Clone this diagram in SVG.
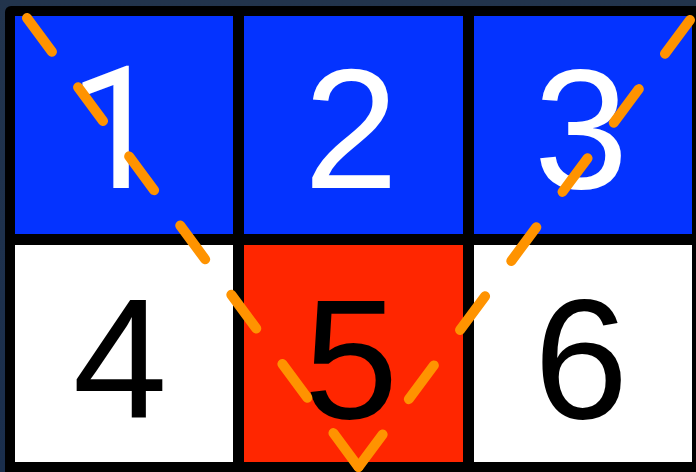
<svg xmlns="http://www.w3.org/2000/svg" width="696" height="472" viewBox="0 0 696 472">
  <style>
    .num { font-family: "Liberation Sans", Arial, sans-serif; font-size: 170px; text-anchor: middle; }
    .one { font-family: Roboto, "Liberation Sans", sans-serif; }
    .w { fill: #ffffff; }
    .k { fill: #000000; }
    .dash { fill: none; stroke: #FF9300; stroke-width: 10; stroke-linecap: round; stroke-dasharray: 42 44; }
  </style>
  <defs>
    <linearGradient id="bg" x1="0" y1="0" x2="0" y2="1">
      <stop offset="0" stop-color="#22344c"/>
      <stop offset="1" stop-color="#1a2e4c"/>
    </linearGradient>
  </defs>
  <rect x="0" y="0" width="696" height="472" fill="url(#bg)"/>
  <rect x="5" y="6" width="700" height="480" rx="6" fill="#000000"/>

  <g id="cell1">
    <rect x="15" y="16" width="218" height="218" fill="#0433FF"/>
    <text class="num one w" x="116" y="188">1</text>
  </g>
  <g id="cell2">
    <rect x="244" y="16" width="219" height="218" fill="#0433FF"/>
    <text class="num w" x="351" y="188">2</text>
  </g>
  <g id="cell3">
    <rect x="474" y="16" width="218" height="218" fill="#0433FF"/>
    <text class="num w" x="581" y="188">3</text>
  </g>
  <g id="cell4">
    <rect x="15" y="245" width="218" height="217" fill="#FFFFFF"/>
    <text class="num k" x="120" y="418">4</text>
  </g>
  <g id="cell5">
    <rect x="244" y="245" width="219" height="217" fill="#FF2600"/>
    <text class="num k" x="351" y="418">5</text>
  </g>
  <g id="cell6">
    <rect x="474" y="245" width="218" height="217" fill="#FFFFFF"/>
    <text class="num k" x="581" y="418">6</text>
  </g>

  <g id="connectors">
    <path class="dash" d="M27,18 L358.5,467"/>
    <path class="dash" d="M690,20 L358.5,467"/>
  </g>
</svg>
